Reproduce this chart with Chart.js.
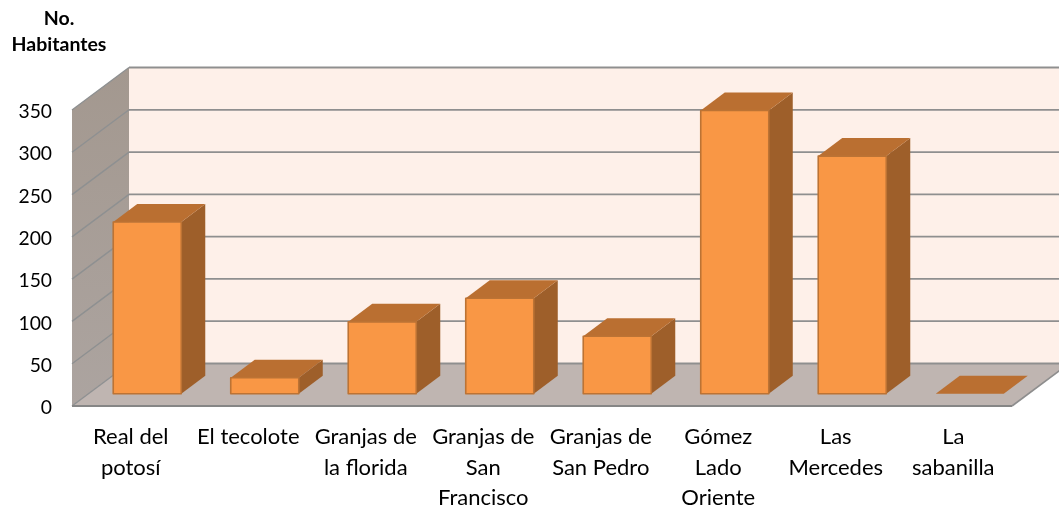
<!DOCTYPE html>
<html lang="es">
<head>
<meta charset="utf-8">
<title>No. Habitantes</title>
<script src="https://cdn.jsdelivr.net/npm/chart.js@4"></script>
<style>
  html, body { margin: 0; padding: 0; background: #fff; overflow: hidden; }
  canvas { display: block; }
</style>
</head>
<body>
<canvas id="chart" width="1059" height="508"></canvas>
<script>
const CATEGORIES = [
  ["Real del", "potosí"],
  ["El tecolote"],
  ["Granjas de", "la florida"],
  ["Granjas de", "San", "Francisco"],
  ["Granjas de", "San Pedro"],
  ["Gómez", "Lado", "Oriente"],
  ["Las", "Mercedes"],
  ["La", "sabanilla"],
];
const HABITANTES = [203, 19, 85, 113, 68, 335, 281, 0];
const AXIS_TITLE = ["No.", "Habitantes"];
const Y_MAX = 350;
const Y_STEP = 50;

const FONT = "Lato, 'Open Sans', sans-serif";

// Excel-style 3D look: the value axis sits on the front plane, walls are pushed
// back by WALL_* and each box sits mid-way through that depth.
const WALL_DX = 57, WALL_DY = 42.5;
const BAR_DX = 24, BAR_DY = 18;
const BAR_SHIFT_X = (WALL_DX - BAR_DX) / 2, BAR_SHIFT_Y = (WALL_DY - BAR_DY) / 2;

const poly = (ctx, pts, fill) => {
  ctx.beginPath();
  pts.forEach(([x, y], i) => (i ? ctx.lineTo(x, y) : ctx.moveTo(x, y)));
  ctx.closePath();
  ctx.fillStyle = fill;
  ctx.fill();
};

const line = (ctx, x0, y0, x1, y1, color, width) => {
  ctx.beginPath();
  ctx.moveTo(x0, y0);
  ctx.lineTo(x1, y1);
  ctx.strokeStyle = color;
  ctx.lineWidth = width;
  ctx.stroke();
};

const wallsPlugin = {
  id: "walls",
  beforeDatasetsDraw(chart) {
    const {ctx, scales: {y}} = chart;
    const {left, right} = chart.chartArea;
    const top = y.getPixelForValue(Y_MAX);
    const zero = y.getPixelForValue(0);
    ctx.save();

    poly(ctx, [[left + WALL_DX, top - WALL_DY], [right + WALL_DX, top - WALL_DY],
      [right + WALL_DX, zero - WALL_DY], [left + WALL_DX, zero - WALL_DY]], "#FEF0E9");

    const side = ctx.createLinearGradient(0, top - WALL_DY, 0, zero);
    side.addColorStop(0, "#A3988F");
    side.addColorStop(1, "#ACA4A0");
    poly(ctx, [[left, top], [left + WALL_DX, top - WALL_DY], [left + WALL_DX, zero - WALL_DY], [left, zero]], side);

    poly(ctx, [[left, zero], [left + WALL_DX, zero - WALL_DY], [right + WALL_DX, zero - WALL_DY], [right, zero]], "#BFB5B1");

    for (const {value} of y.ticks) {
      const py = y.getPixelForValue(value);
      line(ctx, left, py, left + WALL_DX, py - WALL_DY, "#8E9091", 1.4);
      line(ctx, left + WALL_DX, py - WALL_DY, right + WALL_DX, py - WALL_DY, "#8F8F8F", 1.8);
    }
    line(ctx, left, zero, right, zero, "#868686", 2);
    line(ctx, right, zero, right + WALL_DX, zero - WALL_DY, "#8E8E8E", 1.6);

    ctx.fillStyle = "#000";
    ctx.font = `bold 19.5px ${FONT}`;
    ctx.textAlign = "center";
    ctx.textBaseline = "middle";
    AXIS_TITLE.forEach((text, i) => ctx.fillText(text, 59, 19 + i * 26));
    ctx.restore();
  },
};

const box3dPlugin = {
  id: "box3d",
  // bars are read from the bar controller's elements, only the painting is ours
  beforeDatasetDraw(chart, {meta}) {
    const {ctx} = chart;
    ctx.save();
    ctx.lineJoin = "round";
    for (const bar of meta.data) {
      const half = bar.width / 2;
      const x0 = bar.x - half + BAR_SHIFT_X;
      const x1 = bar.x + half + BAR_SHIFT_X;
      const yTop = bar.y - BAR_SHIFT_Y;
      const yBase = bar.base - BAR_SHIFT_Y;
      const height = yBase - yTop;

      if (height > 0) {
        poly(ctx, [[x1, yTop], [x1 + BAR_DX, yTop - BAR_DY], [x1 + BAR_DX, yBase - BAR_DY], [x1, yBase]], "#9E5F2A");
      }
      poly(ctx, [[x0, yTop], [x0 + BAR_DX, yTop - BAR_DY], [x1 + BAR_DX, yTop - BAR_DY], [x1, yTop]], "#BA6F31");
      if (height > 0) {
        ctx.fillStyle = "#F99745";
        ctx.fillRect(x0, yTop, x1 - x0, height);
        ctx.strokeStyle = "#BC7334";
        ctx.lineWidth = 1.6;
        ctx.strokeRect(x0, yTop, x1 - x0, height);
      }
    }
    ctx.restore();
    return false;
  },
};

new Chart(document.getElementById("chart"), {
  type: "bar",
  data: {
    labels: CATEGORIES,
    datasets: [{
      label: "No. Habitantes",
      data: HABITANTES,
      categoryPercentage: 1,
      barPercentage: 0.579,
    }],
  },
  plugins: [wallsPlugin, box3dPlugin],
  options: {
    responsive: false,
    animation: false,
    events: [],
    layout: {padding: {top: 110, right: 47, left: 0, bottom: 0}},
    plugins: {legend: {display: false}, title: {display: false}, tooltip: {enabled: false}},
    scales: {
      x: {
        afterFit(scale) { scale.height = 102; },
        grid: {display: false},
        border: {display: false},
        ticks: {
          color: "#000",
          padding: 8,
          maxRotation: 0,
          autoSkip: false,
          font: {family: FONT, size: 22, lineHeight: 1.38},
        },
      },
      y: {
        min: 0,
        max: Y_MAX,
        afterFit(scale) { scale.width = 72; },
        grid: {display: false},
        border: {display: false},
        ticks: {
          stepSize: Y_STEP,
          color: "#000",
          padding: 12,
          labelOffset: 2,
          font: {family: FONT, size: 19.3},
        },
      },
    },
  },
});
</script>
</body>
</html>
